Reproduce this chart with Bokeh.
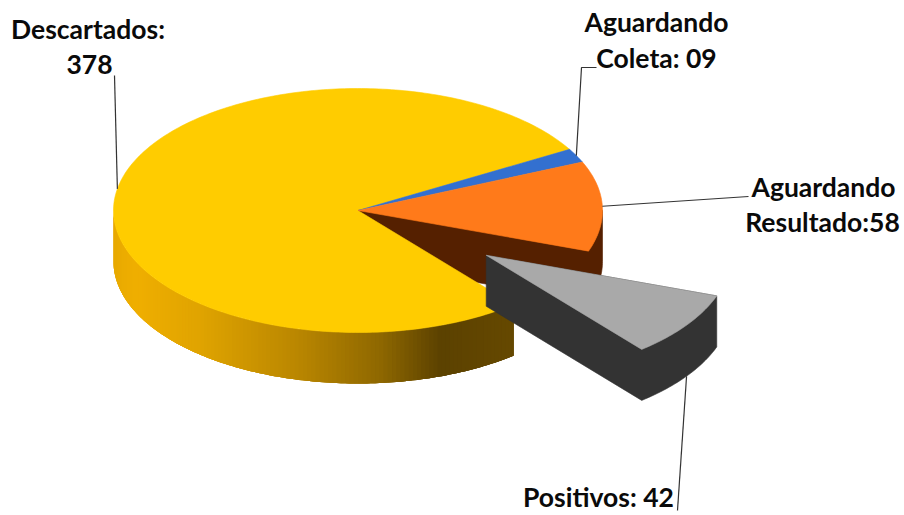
import numpy as np
from bokeh.core.properties import value
from bokeh.embed import file_html
from bokeh.models import Range1d
from bokeh.plotting import figure
from bokeh.resources import INLINE

# ---- data ----
categories = ["Descartados", "Aguardando Coleta", "Aguardando Resultado", "Positivos"]
values = [378, 9, 58, 42]
label_lines = [["Descartados:", "378"], ["Aguardando", "Coleta: 09"],
               ["Aguardando", "Resultado:58"], ["Positivos: 42"]]

# ---- style / layout ----
top_colors = ["#FFCC00", "#3370D0", "#FF7A1A", "#A9A9A9"]
ORANGE_SIDE = "#552000"
GRAY_SIDE = "#333333"
grad_x = [113, 135, 200, 300, 380, 440, 513]
grad_r = [232, 240, 224, 185, 143, 92, 102]
grad_g = [170, 175, 164, 134, 104, 66, 73]
grad_b = [0, 0, 0, 0, 0, 0, 0]
CX, CY, RX, RY, DEPTH = 357.5, 210, 244.5, 122, 51
START_DEG = -50.5
EXPLODE = 0.64
# outer ends of the leader lines, and label anchor points (centre x, y of each line)
leader_outer = [[(114, 75)], [(596, 67), (581, 67)], [(748, 196)], [(677, 510)]]
label_pos = [[(87.5, 28), (89, 64)], [(656, 21.5), (656, 57)],
             [(823, 186), (822, 221)], [(598, 496)]]
FONT = "Lato"
FSIZE = "26.5px"

p = figure(width=904, height=515, output_backend="svg", toolbar_location=None,
           x_range=Range1d(0, 904), y_range=Range1d(515, 0), min_border=0)
p.axis.visible = False
p.grid.visible = False
p.outline_line_color = None
p.background_fill_color = "white"
p.border_fill_color = "white"

# slice angles, clockwise from START_DEG
sweeps = np.array(values) / sum(values) * 360.0
t0 = START_DEG - np.concatenate([[0], np.cumsum(sweeps)[:-1]])
t1 = t0 - sweeps
mid = (t0 + t1) / 2
# gray slice closes the circle: bring its angles next to START_DEG
t0_g, t1_g = t0[3] + 360, t1[3] + 360
mid_g = (t0_g + t1_g) / 2
# orange slice in the same turn
t0_o, t1_o = t0[2] + 360, t1[2] + 360


def pt(deg, dx=0.0, dy=0.0, depth=0.0):
    r = np.radians(deg)
    return CX + dx + RX * np.cos(r), CY + dy - RY * np.sin(r) + depth


def arc(a, b, dx=0.0, dy=0.0, depth=0.0):
    n = max(int(abs(a - b)), 2) + 1
    return pt(np.linspace(a, b, n), dx, dy, depth)


def poly(xs, ys, color, edge=True):
    p.patch(list(xs), list(ys), fill_color=color,
            line_color=color if edge else None, line_width=0.6)


def wedge_top(a, b, color, dx=0.0, dy=0.0):
    ax, ay = arc(a, b, dx, dy)
    poly([CX + dx, *ax], [CY + dy, *ay], color)


def wall(a, b, color, dx=0.0, dy=0.0, edge=True):
    ax, ay = arc(a, b, dx, dy)
    bx, by = arc(b, a, dx, dy, DEPTH)
    poly([*ax, *bx], [*ay, *by], color, edge)


def solid(a, b, color, dx=0.0, dy=0.0):
    """Cut face and outer wall as one shape; the top is painted over it."""
    tx, ty = pt(a, dx, dy)
    bx, by = arc(a, b, dx, dy, DEPTH)
    poly([CX + dx, tx, *bx, CX + dx], [CY + dy, ty, *by, CY + dy + DEPTH], color)


# orange slice sides (visible front part only)
solid(0, t1_o, ORANGE_SIDE)

# yellow slice wall, shaded along x; each strip runs under the next one
a_end = t0[0]
wall_angles = np.append(np.arange(-180, a_end, 1.0), a_end)
for a, b in zip(wall_angles[:-1], wall_angles[1:]):
    xm = pt((a + b) / 2)[0]
    col = "#%02X%02X%02X" % tuple(int(np.interp(xm, grad_x, c)) for c in (grad_r, grad_g, grad_b))
    wall(a, min(b + 3, a_end), col, edge=False)

wedge_top(t0[0], t1[0], top_colors[0])
wedge_top(t0[1], t1[1], top_colors[1])
wedge_top(t0_o, t1_o, top_colors[2])

# exploded gray slice
r_mid = np.radians(mid_g)
ex, ey = EXPLODE * RX * np.cos(r_mid), -EXPLODE * RY * np.sin(r_mid)
solid(t0_g, t1_g, GRAY_SIDE, ex, ey)
wedge_top(t0_g, t1_g, top_colors[3], ex, ey)

# leader lines from slice mid-angles to the labels
anchors = [pt(mid[0]), pt(mid[1]), pt(mid[2]), pt(mid_g, ex, ey, DEPTH)]
for anchor, outer in zip(anchors, leader_outer):
    pts = [(float(anchor[0]), float(anchor[1]))] + outer[::-1]
    p.line([q[0] for q in pts], [q[1] for q in pts], line_color="#333333", line_width=1.2)

# labels
for lines, positions in zip(label_lines, label_pos):
    for line, (x, y) in zip(lines, positions):
        p.text([x], [y], text=[line], text_font=value(FONT), text_font_style="bold",
               text_font_size=FSIZE, text_color="#0A0A0A", text_align="center",
               text_baseline="alphabetic")

open("out.html", "w").write(file_html(p, INLINE))
